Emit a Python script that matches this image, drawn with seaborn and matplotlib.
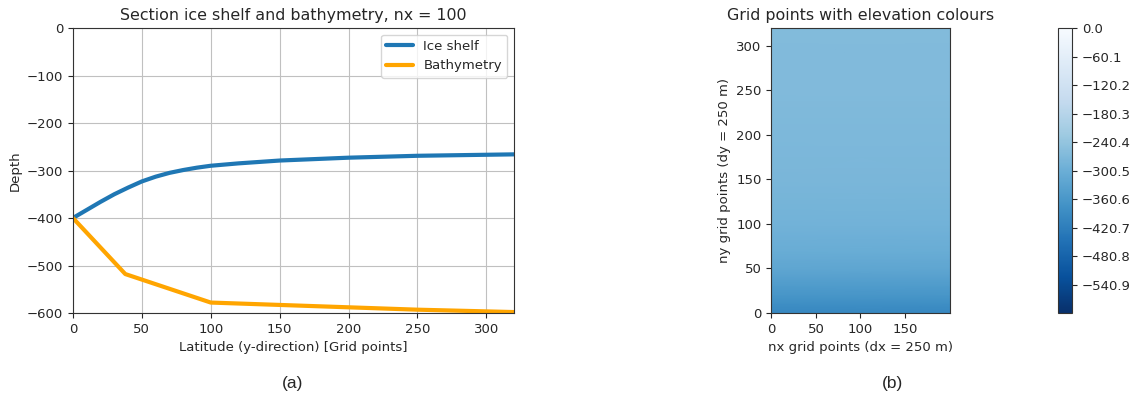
import numpy as np
import pandas as pd
import matplotlib
matplotlib.use("Agg")
import matplotlib.pyplot as plt
import seaborn as sns

# Section profiles along the y-direction (grid points)
ice_y = [0, 10, 20, 30, 40, 50, 60, 70, 80, 90, 100, 120, 150, 200, 250, 320]
ice_depth = [-400, -383, -366, -350, -336, -323, -313, -305, -299, -294,
             -290, -285, -279, -273, -269, -266]

bathy_y = [0, 38, 100, 150, 200, 250, 320]
bathy_depth = [-400, -518, -578, -583, -588, -593, -598]

# Model grid extent
nx_points = 200
ny_points = 320

# Colour scale for elevation
cbar_min, cbar_max = -601.0, 0.0
cbar_ticks = [0.0, -60.1, -120.2, -180.3, -240.4, -300.5, -360.6, -420.7, -480.8, -540.9]

sns.set_style("ticks")
plt.rcParams["font.family"] = ["DejaVu Sans"]
plt.rcParams["font.size"] = 9.5

TICK = 9.5
LABEL = 9.5
TITLE = 11.4

fig = plt.figure(figsize=(11.38, 4.03), dpi=100)

# (a) section of ice shelf and bathymetry
ax1 = fig.add_axes([0.0641, 0.2233, 0.3875, 0.7072])
ice_df = pd.DataFrame({"y": ice_y, "depth": ice_depth})
bathy_df = pd.DataFrame({"y": bathy_y, "depth": bathy_depth})
sns.lineplot(data=ice_df, x="y", y="depth", ax=ax1, color="#1f77b4",
             linewidth=3, label="Ice shelf", sort=False)
sns.lineplot(data=bathy_df, x="y", y="depth", ax=ax1, color="orange",
             linewidth=3, label="Bathymetry", sort=False)
ax1.set_xlim(0, 320)
ax1.set_ylim(-600, 0)
ax1.set_xticks([0, 50, 100, 150, 200, 250, 300])
ax1.set_yticks([0, -100, -200, -300, -400, -500, -600])
ax1.grid(True, color="#c0c0c0", linewidth=0.8)
ax1.set_axisbelow(True)
ax1.set_xlabel("Latitude (y-direction) [Grid points]", fontsize=LABEL)
ax1.set_ylabel("Depth", fontsize=LABEL)
ax1.set_title("Section ice shelf and bathymetry, nx = 100", fontsize=TITLE)
ax1.tick_params(labelsize=TICK, direction="out", length=3.5)
ax1.legend(loc="upper right", fontsize=TICK, framealpha=0.8)
for s in ax1.spines.values():
    s.set_color("#333333")

# (b) grid points coloured by the ice-shelf elevation
ax2 = fig.add_axes([0.6775, 0.2233, 0.1573, 0.7072])
x_edges = np.array([0, nx_points])
y_nodes = np.array(ice_y, dtype=float)
field = np.column_stack([ice_depth, ice_depth]).astype(float)
mesh = ax2.pcolormesh(x_edges, y_nodes, field, shading="gouraud",
                      cmap="Blues_r", vmin=cbar_min, vmax=cbar_max)
ax2.set_xlim(0, nx_points)
ax2.set_ylim(0, ny_points)
ax2.set_aspect("equal")
ax2.set_xticks([0, 50, 100, 150])
ax2.set_yticks([0, 50, 100, 150, 200, 250, 300])
ax2.set_xlabel("nx grid points (dx = 250 m)", fontsize=LABEL)
ax2.set_ylabel("ny grid points (dy = 250 m)", fontsize=LABEL)
ax2.set_title("Grid points with elevation colours", fontsize=TITLE)
ax2.tick_params(labelsize=TICK, direction="out", length=3.5)
for s in ax2.spines.values():
    s.set_color("#333333")

cax = fig.add_axes([0.9297, 0.2233, 0.0123, 0.7072])
cb = fig.colorbar(mesh, cax=cax, ticks=cbar_ticks)
cb.ax.set_yticklabels([f"{t:.1f}".replace("-", "\u2212") for t in cbar_ticks])
cb.ax.tick_params(labelsize=TICK, length=3.5)
cb.outline.set_edgecolor("#333333")

# Panel captions
fig.text(0.2575, 0.0496, "(a)", ha="center", va="center",
         fontsize=12.5, family=["Liberation Sans", "DejaVu Sans"])
fig.text(0.7847, 0.0496, "(b)", ha="center", va="center",
         fontsize=12.5, family=["Liberation Sans", "DejaVu Sans"])

fig.savefig("out.png", dpi=100)
